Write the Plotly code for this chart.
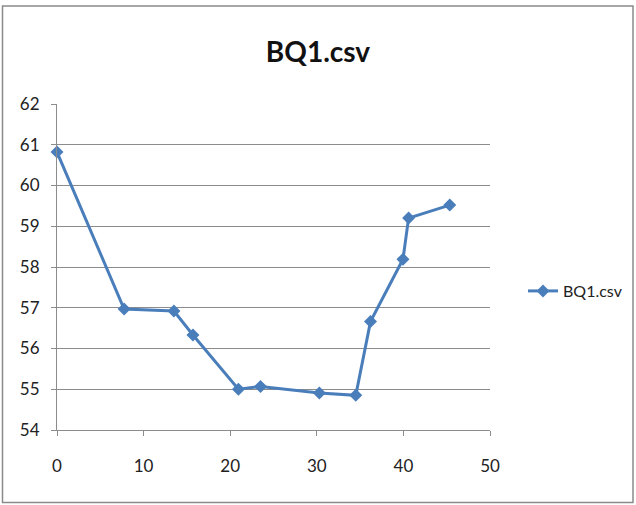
import plotly.graph_objects as go

# Elapsed time vs. reading from BQ1.csv
x_vals = [0, 7.75, 13.5, 15.7, 20.95, 23.5, 30.3, 34.5, 36.2, 39.95, 40.6, 45.35]
y_vals = [60.82, 56.97, 56.92, 56.33, 55.0, 55.07, 54.91, 54.85, 56.66, 58.19, 59.2, 59.52]
series_name = "BQ1.csv"
chart_title = "BQ1.csv"

W, H = 636, 505
L, R, T, B = 57, 146, 104, 75
pw, ph = W - L - R, H - T - B

blue = "#4A7EBB"
grid = "#8C8C8C"
font_family = "Lato, 'Open Sans', sans-serif"

fig = go.Figure()
fig.add_trace(go.Scatter(
    x=x_vals, y=y_vals, name=series_name, mode="lines+markers",
    line=dict(color=blue, width=3),
    marker=dict(symbol="diamond", size=10, color=blue),
    cliponaxis=False,
))


def px_x(p):
    return (p - L) / pw


def px_y(p):
    return (H - B - p) / ph


fig.update_layout(
    width=W, height=H,
    margin=dict(l=L, r=R, t=T, b=B, autoexpand=False),
    paper_bgcolor="white", plot_bgcolor="white",
    font=dict(family=font_family, size=17, color="#222222"),
    title=dict(text="<b>" + chart_title + "</b>", x=0.5, xanchor="center",
               y=1 - 52 / H, yanchor="middle",
               font=dict(size=28, color="#111111")),
    showlegend=True,
    legend=dict(xref="container", yref="container",
                x=523 / W, y=1 - 291 / H, xanchor="left", yanchor="middle",
                bgcolor="rgba(0,0,0,0)", font=dict(size=16),
                itemwidth=30),
    xaxis=dict(range=[0, 50], dtick=10, showgrid=False,
               showline=True, linecolor=grid, linewidth=1,
               ticks="outside", ticklen=5, tickcolor=grid,
               ticklabelstandoff=16,
               zeroline=False, fixedrange=True),
    yaxis=dict(range=[54, 62], dtick=1, showgrid=True, gridcolor=grid,
               gridwidth=1, showline=True, linecolor=grid, linewidth=1,
               ticks="outside", ticklen=5, tickcolor=grid,
               ticklabelstandoff=8,
               zeroline=False, fixedrange=True),
    shapes=[dict(type="rect", xref="paper", yref="paper",
                 x0=px_x(2.5), x1=px_x(633), y0=px_y(502.5), y1=px_y(6),
                 line=dict(color="#8A8A8A", width=1.5), layer="below")],
)

fig.write_html("out.html")
